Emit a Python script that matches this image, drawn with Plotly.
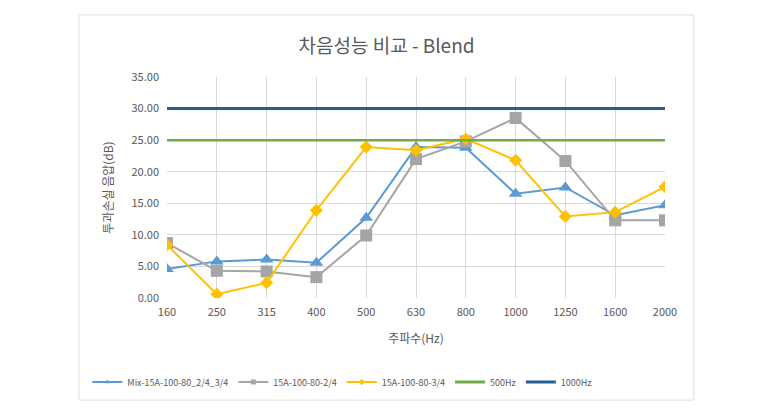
import plotly.graph_objects as go

categories = ["160", "250", "315", "400", "500", "630", "800", "1000", "1250", "1600", "2000"]
mix_vals = [4.6, 5.8, 6.1, 5.6, 12.7, 23.9, 23.8, 16.5, 17.5, 13.1, 14.7]
gray_vals = [8.7, 4.3, 4.2, 3.3, 9.9, 22.0, 24.8, 28.5, 21.7, 12.3, 12.3]
yellow_vals = [8.4, 0.6, 2.4, 13.9, 23.9, 23.4, 25.2, 21.8, 12.9, 13.6, 17.6]
ref500 = [25.0] * len(categories)
ref1000 = [30.0] * len(categories)

series_names = ["Mix-15A-100-80_2/4_3/4", "15A-100-80-2/4", "15A-100-80-3/4", "500Hz", "1000Hz"]
series_colors = ["#5B9BD5", "#A5A5A5", "#FFC000", "#70AD47", "#255E91"]
series_symbols = ["triangle-up", "square", "diamond", None, None]
font_family = "Noto Sans CJK KR, Noto Sans, sans-serif"

fig = go.Figure()
data_series = [mix_vals, gray_vals, yellow_vals]
marker_sizes = [12, 12, 10]
for vals, name, color, sym, ms in zip(data_series, series_names, series_colors, series_symbols, marker_sizes):
    fig.add_trace(go.Scatter(x=categories, y=vals, name=name, mode="lines+markers", showlegend=False,
                             line=dict(color=color, width=2),
                             marker=dict(symbol=sym, size=ms, color=color)))
fig.add_trace(go.Scatter(x=categories, y=ref500, name=series_names[3], mode="lines", showlegend=False,
                         line=dict(color=series_colors[3], width=2.5)))
fig.add_trace(go.Scatter(x=categories, y=ref1000, name=series_names[4], mode="lines", showlegend=False,
                         line=dict(color=series_colors[4], width=3)))

# legend-only entries (small symbols as in the reference legend)
for i, name in enumerate(series_names):
    if series_symbols[i]:
        fig.add_trace(go.Scatter(x=[None], y=[None], name=name, mode="lines+markers",
                                 line=dict(color=series_colors[i], width=2),
                                 marker=dict(symbol=series_symbols[i], size=5, color=series_colors[i])))
    else:
        fig.add_trace(go.Scatter(x=[None], y=[None], name=name, mode="lines",
                                 line=dict(color=series_colors[i], width=3)))

fig.update_layout(
    width=757, height=400,
    margin=dict(l=159, r=100, t=69, b=110, autoexpand=False),
    paper_bgcolor="white", plot_bgcolor="white",
    font=dict(family=font_family, color="#595959", size=11),
    title=dict(text="차음성능 비교 - Blend", x=0.5, xanchor="center", y=0.905, yanchor="middle",
               font=dict(size=19, color="#595959")),
    showlegend=True,
    legend=dict(orientation="h", x=-0.16, xanchor="left", y=-0.315, yanchor="top",
                font=dict(size=9, color="#595959"),
                itemwidth=30, tracegroupgap=0),
    xaxis=dict(type="category", range=[0, 10], showgrid=True, gridcolor="#D9D9D9",
               showline=False, zeroline=False, ticks="", ticklabelstandoff=6, automargin=False,
               tickfont=dict(size=11, color="#595959"),
               title=dict(text="주파수(Hz)", font=dict(size=12, color="#595959"), standoff=16)),
    yaxis=dict(range=[0, 35], dtick=5, tickformat=".2f", showgrid=True, gridcolor="#D9D9D9",
               zeroline=False, showline=False, ticks="", ticklabelstandoff=7, automargin=False,
               tickfont=dict(size=11, color="#595959"),
               title=dict(text="투과손실 음압(dB)", font=dict(size=12, color="#595959"), standoff=15)),
    shapes=[dict(type="rect", xref="paper", yref="paper", x0=-0.177, x1=1.058, y0=-0.462, y1=1.281,
                 line=dict(color="#E0E0E0", width=1), fillcolor="rgba(0,0,0,0)", layer="below")],
)

fig.write_html("out.html")
